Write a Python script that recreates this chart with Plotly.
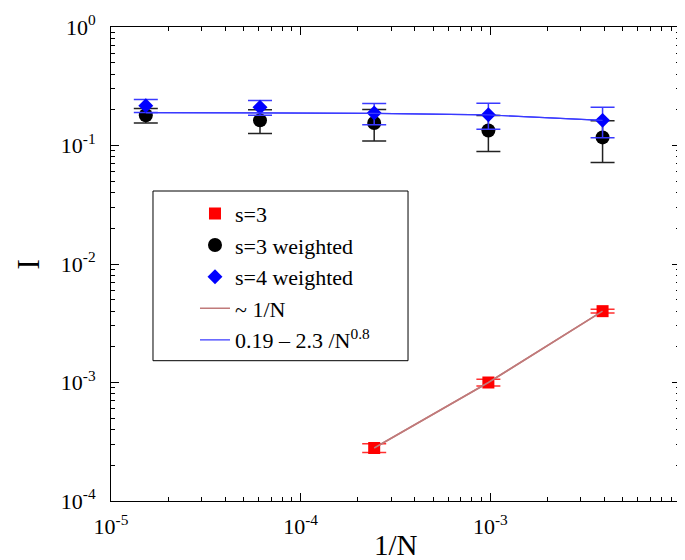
import plotly.graph_objects as go

# ---- data ----
N_all = [65536, 16384, 4096, 1024, 256]
s4w_vals = [0.217, 0.210, 0.188, 0.182, 0.163]
s4w_err = [0.027, 0.030, 0.038, 0.045, 0.047]
s3w_vals = [0.180, 0.163, 0.155, 0.134, 0.117]
s3w_err = [0.025, 0.037, 0.046, 0.045, 0.045]
fit_vals = [0.1897, 0.1890, 0.1870, 0.1810, 0.1628]

N_s3 = [4096, 1024, 256]
s3_vals = [2.8e-4, 1.0e-3, 4.0e-3]
s3_err = [2.4e-5, 6.4e-5, 1.5e-4]
line1n_vals = [2.8e-4, 1.0e-3, 4.0e-3]

x_tickvals = [1e-5, 1e-4, 1e-3, 1e-2]
x_ticktext = ["10<sup>-5</sup>", "10<sup>-4</sup>", "10<sup>-3</sup>", "10<sup>-2</sup>"]
y_tickvals = [1e-4, 1e-3, 1e-2, 1e-1, 1e0]
y_ticktext = ["10<sup>-4</sup>", "10<sup>-3</sup>", "10<sup>-2</sup>", "10<sup>-1</sup>", "10<sup>0</sup>"]

x_all = [1.0 / n for n in N_all]
x_s3 = [1.0 / n for n in N_s3]

FONT = "Liberation Serif, Times New Roman, serif"
RED_LINE = "#c07a7a"
BLUE_LINE = "#3a3aff"

fig = go.Figure()

fig.add_trace(go.Scatter(
    x=x_s3, y=line1n_vals, mode="lines", name="~ 1/N",
    line=dict(color=RED_LINE, width=1.5), showlegend=False, legendgroup="d"))
fig.add_trace(go.Scatter(
    x=x_s3, y=s3_vals, mode="markers", name="s=3",
    marker=dict(symbol="square", size=12, color="#ff0000"),
    error_y=dict(type="data", array=s3_err, color="#ff3030", thickness=1.5, width=12),
    legendgroup="a"))
fig.add_trace(go.Scatter(
    x=x_all, y=s3w_vals, mode="markers", name="s=3 weighted",
    marker=dict(symbol="circle", size=14, color="#000000"),
    error_y=dict(type="data", array=s3w_err, color="#222222", thickness=1.5, width=12),
    legendgroup="b"))
fig.add_trace(go.Scatter(
    x=x_all, y=fit_vals, mode="lines", name="0.19 \u2013 2.3 /N<sup>0.8</sup>",
    line=dict(color=BLUE_LINE, width=1.2), showlegend=False, legendgroup="e"))
fig.add_trace(go.Scatter(
    x=x_all, y=s4w_vals, mode="markers", name="s=4 weighted",
    marker=dict(symbol="diamond", size=11.5, color="#0000ff"),
    error_y=dict(type="data", array=s4w_err, color=BLUE_LINE, thickness=1.5, width=12),
    legendgroup="c"))
# legend entries for the two lines, in the reference's legend order
fig.add_trace(go.Scatter(
    x=x_s3, y=line1n_vals, mode="lines", name="~ 1/N",
    line=dict(color=RED_LINE, width=1.5), legendgroup="d", hoverinfo="skip"))
fig.add_trace(go.Scatter(
    x=x_all, y=fit_vals, mode="lines", name="0.19 \u2013 2.3 /N<sup>0.8</sup>",
    line=dict(color=BLUE_LINE, width=1.2), legendgroup="e", hoverinfo="skip"))

axis_common = dict(
    type="log", showline=True, linecolor="black", linewidth=1, mirror="ticks",
    ticks="inside", ticklen=8, tickwidth=1, tickcolor="black",
    showgrid=False, zeroline=False, automargin=False,
    minor=dict(ticks="inside", ticklen=4, tickcolor="black", dtick="D1", showgrid=False),
    tickfont=dict(family=FONT, size=22, color="black"),
    tickmode="array",
)

fig.update_xaxes(**axis_common, range=[-5, -2], tickvals=x_tickvals, ticktext=x_ticktext,
                 ticklabelstandoff=6)
fig.update_yaxes(**axis_common, range=[-4, 0], tickvals=y_tickvals, ticktext=y_ticktext,
                 ticklabelstandoff=10)

fig.update_layout(
    width=685, height=560,
    margin=dict(l=103, r=13, t=19, b=67),
    paper_bgcolor="white", plot_bgcolor="white",
    font=dict(family=FONT, color="black"),
    showlegend=True,
    legend=dict(
        x=0.1476, y=0.6505, xanchor="left", yanchor="top",
        bgcolor="rgba(0,0,0,0)", borderwidth=0,
        font=dict(family=FONT, size=22, color="black"),
        tracegroupgap=0, traceorder="grouped",
    ),
    shapes=[dict(type="rect", xref="paper", yref="paper",
                 x0=0.0738, x1=0.522, y0=0.296, y1=0.654,
                 line=dict(color="black", width=1), fillcolor="white", layer="below")],
    annotations=[
        dict(text="1/N", xref="paper", yref="paper", x=0.5, y=-0.0935,
             xanchor="center", yanchor="middle", showarrow=False,
             font=dict(family=FONT, size=29, color="black")),
        dict(text="I", xref="paper", yref="paper", x=-0.145, y=0.5,
             xanchor="center", yanchor="middle", showarrow=False, textangle=-90,
             font=dict(family=FONT, size=31, color="black")),
    ],
)

fig.write_html("out.html")
